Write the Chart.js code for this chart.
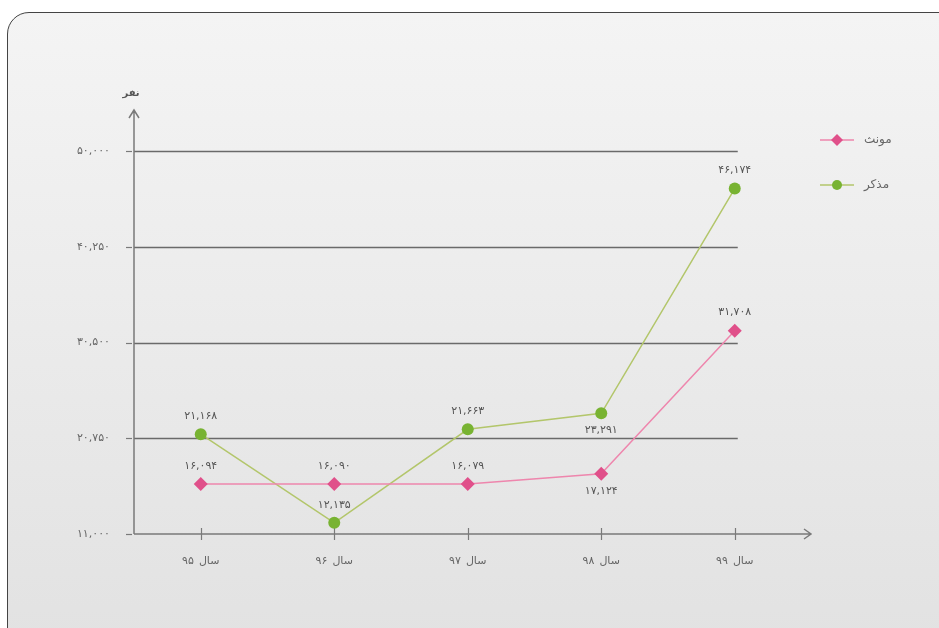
<!DOCTYPE html>
<html>
<head>
<meta charset="utf-8">
<title>chart</title>
<script src="https://cdn.jsdelivr.net/npm/chart.js@4/dist/chart.umd.min.js"></script>
<style>
  html, body { margin: 0; padding: 0; background: #fff; }
  .wrap { position: relative; width: 939px; height: 628px; overflow: hidden; }
  .frame {
    position: absolute; left: 7px; top: 12px; width: 1000px; height: 700px;
    border: 1.5px solid #444; border-radius: 22px;
    background: linear-gradient(#f4f4f4, #e2e2e2 90%);
  }
  canvas { position: absolute; left: 0; top: 0; }
</style>
</head>
<body>
<div class="wrap">
  <div class="frame"></div>
  <canvas id="chart" width="939" height="628"></canvas>
</div>
<script>
const years = ['سال ۹۵', 'سال ۹۶', 'سال ۹۷', 'سال ۹۸', 'سال ۹۹'];
const female = [16094, 16090, 16079, 17124, 31708];
const male = [21168, 12135, 21663, 23291, 46174];
const seriesNames = ['مونث', 'مذکر'];
const yTicks = [11000, 20750, 30500, 40250, 50000];
const yTitle = 'نفر';

const FONT = "'DejaVu Sans', sans-serif";

function toFa(n) {
  const s = n.toLocaleString('en-US');
  return s.replace(/[0-9]/g, d => '۰۱۲۳۴۵۶۷۸۹'[d]);
}

// wider text spacing like the original
const spacingPlugin = {
  id: 'spacing',
  beforeDraw(chart) { chart.ctx.letterSpacing = '1.5px'; }
};

// axes with arrows, grid lines, ticks
const axesPlugin = {
  id: 'axes',
  beforeDatasetsDraw(chart) {
    const {ctx, scales: {x, y}} = chart;
    const left = x.left, bottom = y.bottom;
    const lastX = x.getPixelForValue(years.length - 1);
    ctx.save();
    ctx.strokeStyle = '#6a6a6a';
    ctx.lineWidth = 1.5;
    yTicks.slice(1).forEach(v => {
      const py = Math.round(y.getPixelForValue(v)) + 0.5;
      ctx.beginPath();
      ctx.moveTo(left, py);
      ctx.lineTo(lastX + 3, py);
      ctx.stroke();
    });
    ctx.strokeStyle = '#7a7a7a';
    // y axis
    ctx.beginPath();
    ctx.moveTo(left, bottom);
    ctx.lineTo(left, 110);
    ctx.moveTo(left - 5, 118);
    ctx.lineTo(left, 110);
    ctx.lineTo(left + 5, 118);
    ctx.stroke();
    // x axis
    ctx.beginPath();
    ctx.moveTo(left, bottom);
    ctx.lineTo(811, bottom);
    ctx.moveTo(804, bottom - 5);
    ctx.lineTo(811, bottom);
    ctx.lineTo(804, bottom + 5);
    ctx.stroke();
    // x tick marks
    ctx.lineWidth = 1.2;
    years.forEach((_, i) => {
      const px = Math.round(x.getPixelForValue(i)) + 0.5;
      ctx.beginPath();
      ctx.moveTo(px, bottom - 6);
      ctx.lineTo(px, bottom + 6);
      ctx.stroke();
    });
    // y tick marks
    yTicks.forEach(v => {
      const py = Math.round(y.getPixelForValue(v)) + 0.5;
      ctx.beginPath();
      ctx.moveTo(left - 8, py);
      ctx.lineTo(left - 2, py);
      ctx.stroke();
    });
    ctx.fillStyle = '#555';
    ctx.font = 'bold 10px ' + FONT;
    ctx.letterSpacing = '0px';
    ctx.textAlign = 'center';
    ctx.textBaseline = 'middle';
    ctx.fillText(yTitle, left - 3, 93);
    ctx.restore();
  }
};

// value labels
const labelPlugin = {
  id: 'valueLabels',
  afterDatasetsDraw(chart, args, opts) {
    const {ctx} = chart;
    ctx.save();
    ctx.font = '11px ' + FONT;
    ctx.letterSpacing = '1.5px';
    ctx.fillStyle = '#555';
    ctx.textAlign = 'center';
    ctx.textBaseline = 'middle';
    chart.data.datasets.forEach((ds, di) => {
      const below = opts.below[di] || [];
      chart.getDatasetMeta(di).data.forEach((pt, i) => {
        const dy = below.includes(i) ? 17 : -18;
        ctx.fillText(toFa(ds.data[i]), pt.x, pt.y + dy);
      });
    });
    ctx.restore();
  }
};

// legend on the right
const legendPlugin = {
  id: 'sideLegend',
  afterDraw(chart) {
    const {ctx} = chart;
    const rows = [140, 185];
    ctx.save();
    chart.data.datasets.forEach((ds, di) => {
      const y = rows[di];
      ctx.strokeStyle = ds.borderColor;
      ctx.lineWidth = 1.5;
      ctx.beginPath();
      ctx.moveTo(820, y);
      ctx.lineTo(854, y);
      ctx.stroke();
      ctx.fillStyle = ds.pointBackgroundColor;
      ctx.beginPath();
      if (ds.pointStyle === 'rectRot') {
        ctx.moveTo(837, y - 6); ctx.lineTo(843, y); ctx.lineTo(837, y + 6); ctx.lineTo(831, y);
      } else {
        ctx.arc(837, y, 5, 0, Math.PI * 2);
      }
      ctx.closePath();
      ctx.fill();
      ctx.fillStyle = '#666';
      ctx.font = '12px ' + FONT;
      ctx.letterSpacing = '0px';
      ctx.textAlign = 'left';
      ctx.textBaseline = 'middle';
      ctx.fillText(ds.label, 864, y);
    });
    ctx.restore();
  }
};

new Chart(document.getElementById('chart'), {
  type: 'line',
  data: {
    labels: years,
    datasets: [
      {
        label: seriesNames[0],
        data: female,
        borderColor: '#ee86ad',
        borderWidth: 1.5,
        pointStyle: 'rectRot',
        pointRadius: 7,
        pointBackgroundColor: '#e0508a',
        pointBorderColor: '#e0508a',
        pointBorderWidth: 0,
        tension: 0
      },
      {
        label: seriesNames[1],
        data: male,
        borderColor: '#b3c66b',
        borderWidth: 1.5,
        pointStyle: 'circle',
        pointRadius: 6,
        pointBackgroundColor: '#78b332',
        pointBorderColor: '#78b332',
        pointBorderWidth: 0,
        tension: 0
      }
    ]
  },
  options: {
    responsive: false,
    animation: false,
    layout: { padding: { top: 151, right: 137.5, bottom: 0, left: 0 } },
    plugins: {
      legend: { display: false },
      tooltip: { enabled: false },
      valueLabels: { below: [[3], [3]] }
    },
    scales: {
      x: {
        offset: true,
        grid: { display: false },
        border: { display: false },
        ticks: { color: '#666', font: { family: FONT, size: 11 }, padding: 13, maxRotation: 0 },
        afterFit: s => { s.height = 94; }
      },
      y: {
        min: 11000,
        max: 50000,
        afterBuildTicks: s => { s.ticks = yTicks.map(v => ({value: v})); },
        grid: { display: false },
        border: { display: false },
        ticks: { color: '#666', font: { family: FONT, size: 11 }, padding: 16, callback: v => toFa(v) },
        afterFit: s => { s.width = 134; }
      }
    }
  },
  plugins: [spacingPlugin, axesPlugin, labelPlugin, legendPlugin]
});
</script>
</body>
</html>
